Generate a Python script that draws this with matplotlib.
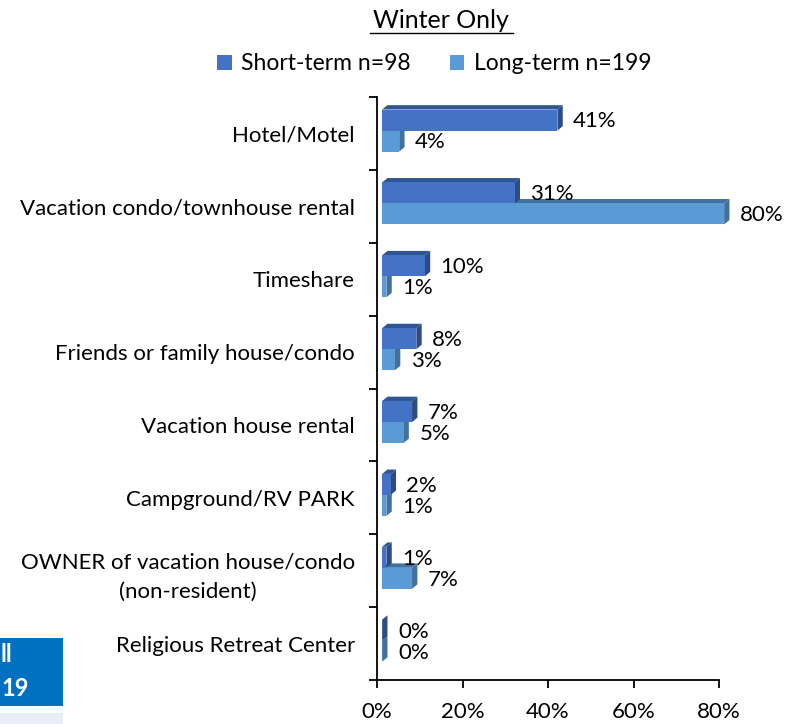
import matplotlib.pyplot as plt
from matplotlib.patches import Polygon, Rectangle
from matplotlib.lines import Line2D

categories = ['Hotel/Motel', 'Vacation condo/townhouse rental', 'Timeshare',
              'Friends or family house/condo', 'Vacation house rental',
              'Campground/RV PARK', 'OWNER of vacation house/condo\n(non-resident)',
              'Religious Retreat Center']
short_term = [41, 31, 10, 8, 7, 2, 1, 0]
long_term = [4, 80, 1, 3, 5, 1, 7, 0]
series_names = ['Short-term n=98', 'Long-term n=199']

plt.rcParams['font.family'] = ['Lato', 'DejaVu Sans']
fs = 16

fig = plt.figure(figsize=(7.87, 7.24), dpi=100)
ax = fig.add_axes([377/787, 1 - 680/724, 342/787, 583/724])
ax.set_xlim(0, 80)
ax.set_ylim(7.5, -0.5)

# 3D-look bars: front face + top + right side
ox = 1.2     # front face offset from axis (%)
dx = 1.25    # depth in x (%)
dy = 0.06    # depth in y (category units)
h = 0.288


def bar3d(y0, val, front, top, side):
    x0 = ox
    x1 = ox + val
    y1 = y0 + h
    ax.add_patch(Polygon([(x0, y0), (x0 + dx, y0 - dy), (x1 + dx, y0 - dy), (x1, y0)],
                         closed=True, fc=top, ec='none', zorder=2, clip_on=False))
    ax.add_patch(Polygon([(x1, y0), (x1 + dx, y0 - dy), (x1 + dx, y1 - dy), (x1, y1)],
                         closed=True, fc=side, ec='none', zorder=2, clip_on=False))
    if val > 0:
        ax.add_patch(Rectangle((x0, y0), val, h, fc=front, ec='none', zorder=2, clip_on=False))
    ax.text(x1 + 3.7, y0 + h / 2 + 0.02, f'{val}%', va='center', ha='left', fontsize=fs, zorder=3)


for i in range(len(categories)):
    # long-term drawn first so the short-term bar sits in front of it
    bar3d(i - 0.04, long_term[i], '#5B9BD5', '#41719C', '#41719C')
    bar3d(i - 0.328, short_term[i], '#4472C4', '#2F5597', '#2C4C86')

for s in ['top', 'right']:
    ax.spines[s].set_visible(False)
for s in ['left', 'bottom']:
    ax.spines[s].set_linewidth(1.3)

ax.set_yticks([k - 0.5 for k in range(len(categories) + 1)])
ax.set_yticklabels([])
ax.set_yticks(range(len(categories)), minor=True)
ax.set_yticklabels(categories, minor=True, fontsize=fs, ha='right',
                   multialignment='center', linespacing=1.55)
ax.tick_params(axis='y', which='major', length=6, width=1.3, direction='out')
ax.tick_params(axis='y', which='minor', length=0, pad=16)

ax.set_xticks([0, 20, 40, 60, 80])
ax.set_xticklabels(['0%', '20%', '40%', '60%', '80%'], fontsize=fs)
ax.tick_params(axis='x', length=6, width=1.3, pad=10)

# title with underline
fig.text(441/787, 1 - 20/724, 'Winter Only', ha='center', va='center', fontsize=fs + 2)
fig.add_artist(Line2D([370/787, 513/787], [1 - 33/724, 1 - 33/724], color='black', lw=1))

handles = [Rectangle((0, 0), 1, 1, fc='#4472C4'), Rectangle((0, 0), 1, 1, fc='#5B9BD5')]
fig.legend(handles, series_names, loc='center', bbox_to_anchor=(434/787, 1 - 64/724),
           ncol=2, frameon=False, fontsize=fs + 0.5, handlelength=0.65, handleheight=0.65,
           handletextpad=0.4, columnspacing=1.7)

# clipped slide element in the lower-left corner
fig.add_artist(Rectangle((0, 1 - 706/724), 63/787, 68/724, fc='#0070C0', ec='none',
                         transform=fig.transFigure))
fig.add_artist(Rectangle((0, 0), 63/787, 11/724, fc='#E9EDF7', ec='none',
                         transform=fig.transFigure))
fig.text(1/787, 1 - 655/724, 'll', color='white', fontweight='bold', fontsize=fs + 1,
         va='center', ha='left')
fig.text(1/787, 1 - 689/724, '19', color='white', fontweight='bold', fontsize=fs + 1,
         va='center', ha='left')

fig.savefig('out.png', dpi=100)
